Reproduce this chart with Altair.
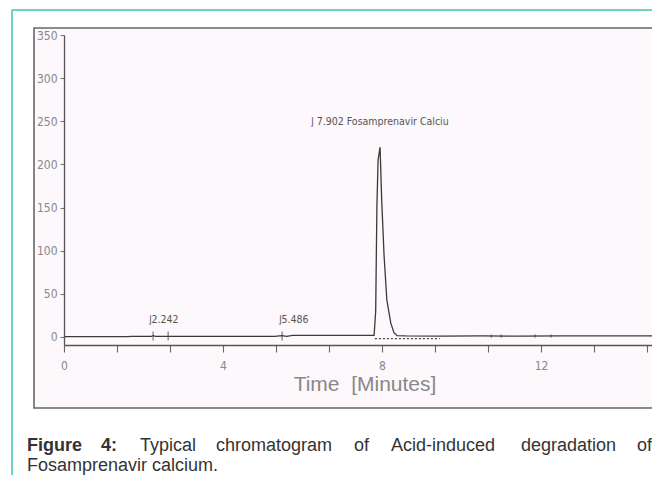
import altair as alt
import pandas as pd

# ---- data ----
time_min = [0.0, 1.55, 1.6, 1.7, 2.2, 2.242, 2.3, 2.6, 2.65, 5.3, 5.486, 5.6, 5.75,
            7.5, 7.8, 7.84, 7.87, 7.9, 7.95, 7.99, 8.05, 8.12, 8.22, 8.3, 8.38,
            8.6, 9.5, 10.5, 11.5, 12.5, 13.5, 14.8]
signal_mau = [0.5, 0.5, 0.3, 0.8, 0.8, 1.5, 0.8, 0.8, 0.8, 0.8, 1.5, 0.8, 1.8,
              1.8, 2.0, 30, 150, 205, 220, 160, 95, 43, 16, 5, 1.5,
              1.2, 1.0, 1.2, 1.0, 1.2, 1.2, 1.2]

peak_labels = ["\u230b2.242", "\u230b5.486", "\u230b 7.902 Fosamprenavir Calciu"]
label_time = [2.11, 5.38, 6.19]
label_level = [20, 20, 249]

marker_times = [2.242, 2.62, 5.486]
marker_level = [1, 1, 1]
dot_times = [10.75, 11.0, 11.85, 12.25]
dot_level = [1, 1, 1, 1]

dash_time = [7.82, 9.45]
dash_level = [-1.8, -1.8]

x_label_values = [0, 4, 8, 12]
y_label_values = [0, 50, 100, 150, 200, 250, 300, 350]
x_minor = [(2 * i) / 3 for i in range(23)]
y_minor = [i * 6.25 for i in range(57)]

X_DOMAIN = [0, 14.79]
Y_DOMAIN = [-9.3, 350]

NARROW = "DejaVu Sans Condensed, Liberation Sans Narrow, Liberation Sans, Arial"
SANS = "Liberation Sans, Arial, Helvetica"

sig = pd.DataFrame({"t": time_min, "v": signal_mau})
lab = pd.DataFrame({"t": label_time, "v": label_level, "txt": peak_labels})
mk = pd.DataFrame({"t": marker_times, "v": marker_level})
dt = pd.DataFrame({"t": dot_times, "v": dot_level})
dsh = pd.DataFrame({"t": dash_time, "v": dash_level})

xscale = alt.Scale(domain=X_DOMAIN, nice=False, zero=False)
yscale = alt.Scale(domain=Y_DOMAIN, nice=False, zero=False)

xaxis = alt.Axis(
    values=x_minor,
    labelExpr="abs(datum.value - round(datum.value/4)*4) < 0.01 ? format(datum.value, 'd') : ''",
    tickSize=7, tickColor="#666", domainColor="#555", domainWidth=1.3, tickWidth=1.1,
    labelFont=NARROW, labelFontSize=12, labelColor="#888", labelPadding=8,
    grid=False, title=None, zindex=1, labelFlush=False, labelOverlap=False,
)
yaxis = alt.Axis(
    values=y_minor,
    labelExpr="datum.value % 50 == 0 ? format(datum.value, 'd') : ''",
    tickSize=4, tickColor="#777", domainColor="#555", domainWidth=1.3, tickWidth=1.1,
    labelFont=NARROW, labelFontSize=12, labelColor="#888", labelPadding=3,
    grid=False, title=None, zindex=1, labelOverlap=False,
)

one = alt.Data(values=[{}])

frame = alt.Chart(one).mark_rect(
    fill="#fcf8fb", stroke="#666", strokeWidth=1.6
).encode(x=alt.value(-30), x2=alt.value(600), y=alt.value(-7), y2=alt.value(373))

teal_top = alt.Chart(one).mark_rule(color="#3ec6ae", strokeWidth=1.5).encode(
    x=alt.value(-52), x2=alt.value(596), y=alt.value(-25))
teal_left = alt.Chart(one).mark_rule(color="#3ec6ae", strokeWidth=1.5).encode(
    x=alt.value(-52), y=alt.value(-25), y2=alt.value(450))

line = alt.Chart(sig).mark_line(color="#3a3a3a", strokeWidth=1.3, clip=True).encode(
    x=alt.X("t:Q", scale=xscale, axis=xaxis),
    y=alt.Y("v:Q", scale=yscale, axis=yaxis),
)

dash = alt.Chart(dsh).mark_line(color="#444", strokeWidth=1.2, strokeDash=[2, 2]).encode(
    x=alt.X("t:Q", scale=xscale), y=alt.Y("v:Q", scale=yscale))

markers = alt.Chart(mk).mark_tick(color="#444", orient="vertical", size=9, thickness=1.2).encode(
    x=alt.X("t:Q", scale=xscale), y=alt.Y("v:Q", scale=yscale))
dots = alt.Chart(dt).mark_tick(color="#444", orient="vertical", size=3, thickness=1.5).encode(
    x=alt.X("t:Q", scale=xscale), y=alt.Y("v:Q", scale=yscale))

labels = alt.Chart(lab).mark_text(
    align="left", baseline="middle", font=NARROW, fontSize=10.5, color="#555"
).encode(x=alt.X("t:Q", scale=xscale), y=alt.Y("v:Q", scale=yscale), text="txt:N")

xtitle = alt.Chart(one).mark_text(
    align="center", baseline="middle", font=SANS, fontSize=21, color="#888"
).encode(x=alt.value(301), y=alt.value(350), text=alt.value("Time\u00a0\u00a0[Minutes]"))

caption_layers = []
words = [("Figure", -37, "bold", "left"), ("4:", 37, "bold", "left"),
         ("Typical", 76, "normal", "left"), ("chromatogram", 152, "normal", "left"),
         ("of", 290, "normal", "left"), ("Acid-induced", 327, "normal", "left"),
         ("degradation", 457, "normal", "left"), ("of", 588, "normal", "right")]
for w, px, fw, al in words:
    caption_layers.append(
        alt.Chart(one).mark_text(align=al, baseline="alphabetic", font=SANS, fontSize=18,
                                 fontWeight=fw, color="#333")
        .encode(x=alt.value(px), y=alt.value(416), text=alt.value(w)))
caption_layers.append(
    alt.Chart(one).mark_text(align="left", baseline="alphabetic", font=SANS, fontSize=18, color="#333")
    .encode(x=alt.value(-37), y=alt.value(436), text=alt.value("Fosamprenavir calcium.")))

chart = alt.layer(
    frame, teal_top, teal_left, line, dash, markers, dots, labels, xtitle, *caption_layers
).properties(
    width=588, height=310,
    autosize=alt.AutoSizeParams(type="none"),
    padding={"left": 56, "top": 27, "right": 0, "bottom": 130},
    background="white",
).configure_view(stroke=None)

chart.save("out.html", embed_options={"renderer": "svg", "actions": False})
